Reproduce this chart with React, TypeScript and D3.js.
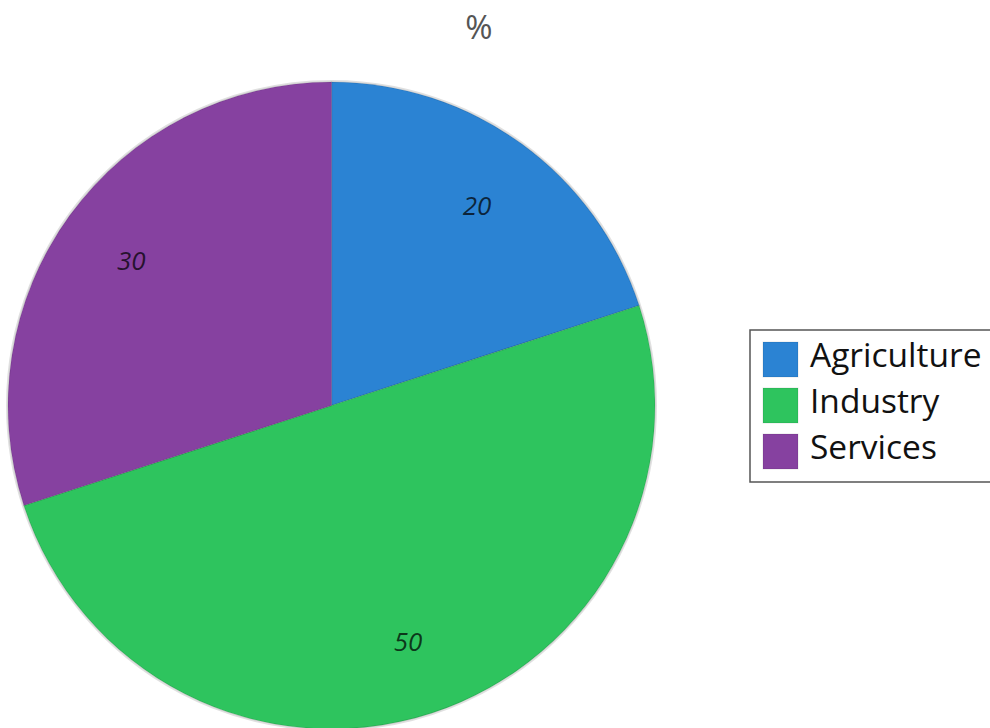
import React from "react";
import * as d3 from "d3";

const categories = ["Agriculture", "Industry", "Services"];
const values = [20, 50, 30];
const colors = ["#2B83D3", "#2EC45E", "#8641A0"];
const title = "%";

const W = 990;
const H = 728;
const cx = 331.5;
const cy = 405.5;
const R = 323.5;
const FONT = "'Open Sans', 'Noto Sans', sans-serif";

export default function App() {
  const pie = d3.pie<number>().sort(null).value((d) => d);
  const arcs = pie(values);
  const arcGen = d3.arc<d3.PieArcDatum<number>>().innerRadius(0).outerRadius(R);
  const labelArc = d3.arc<d3.PieArcDatum<number>>().innerRadius(R * 0.765).outerRadius(R * 0.765);

  const legendX = 750;
  const legendY = 330;
  const rowY = d3.scaleBand<string>().domain(categories).range([342, 342 + 46 * 3]).paddingInner(0);

  return (
    <svg width={W} height={H} style={{ position: "fixed", left: 0, top: 0, background: "#fff" }}>
      <text x={479} y={26} textAnchor="middle" dominantBaseline="central" fontFamily={FONT} fontSize={33} fill="#555">
        {title}
      </text>
      <g transform={`translate(${cx},${cy})`}>
        <circle r={R + 1} fill="none" stroke="rgba(0,0,0,0.12)" strokeWidth={2} />
        {arcs.map((a, i) => (
          <path key={i} d={arcGen(a) || ""} fill={colors[i]} stroke="rgba(0,0,0,0.12)" strokeWidth={1.2} />
        ))}
        {arcs.map((a, i) => {
          const [x, y] = labelArc.centroid(a);
          return (
            <text key={"l" + i} x={x} y={y} textAnchor="middle" dominantBaseline="central" fontFamily={FONT} fontStyle="italic" fontSize={26} fill="rgba(0,0,0,0.72)">
              {values[i]}
            </text>
          );
        })}
      </g>
      <rect x={legendX} y={legendY} width={260} height={152} fill="#fff" stroke="#555" strokeWidth={1.5} />
      {categories.map((c, i) => {
        const y = rowY(c) || 0;
        return (
          <g key={c}>
            <rect x={763} y={y} width={35} height={35} fill={colors[i]} stroke="rgba(0,0,0,0.1)" strokeWidth={1} />
            <text x={810} y={y + 25} fontFamily={FONT} fontSize={33.5} fill="#111">
              {c}
            </text>
          </g>
        );
      })}
    </svg>
  );
}
